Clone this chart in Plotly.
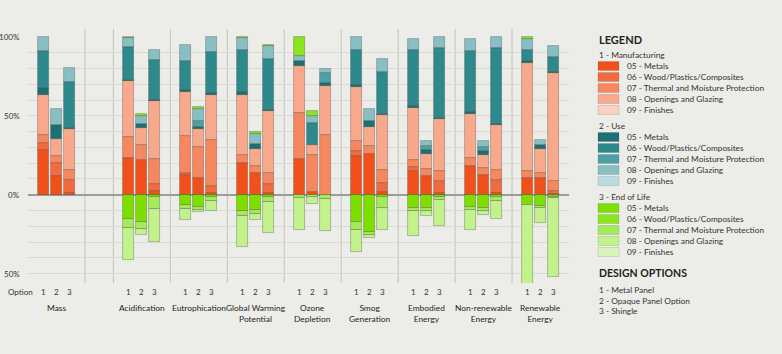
import plotly.graph_objects as go

# ---------------- DATA ----------------
categories = ["Mass", "Acidification", "Eutrophication", "Global Warming<br>Potential",
              "Ozone<br>Depletion", "Smog<br>Generation", "Embodied<br>Energy",
              "Non-renewable<br>Energy", "Renewable<br>Energy"]
options = ["1", "2", "3"]
design_options = ["1 - Metal Panel", "2 - Opaque Panel Option", "3 - Shingle"]
divisions = ["05 - Metals", "06 - Wood/Plastics/Composites", "07 - Thermal and Moisture Protection",
             "08 - Openings and Glazing", "09 - Finishes"]
phases = ["1 - Manufacturing", "2 - Use", "3 - End of Life"]
y_tick_vals = [100, 50, 0, -50]
y_tick_text = ["100%", "50%", "0%", "50%"]

# values (% of max) per category, options 1,2,3
mfg_05 = [28.5, 11.6, 1.1, 23.3, 21.8, 2.1, 12.3, 10.6, 1.1, 20.1, 13.7, 1.1, 22.6, 1.5, 0,
          24.7, 26.0, 1.7, 14.8, 12.1, 1.1, 18.4, 12.7, 1.1, 10.6, 10.6, 0.5]
mfg_06 = [4.3, 8.5, 8.4, 0, 0, 4.9, 1.4, 0, 4.2, 0, 0, 5.9, 0, 0, 0,
          2.8, 0, 5.7, 2.7, 0, 7.4, 0, 0, 8.4, 0, 0, 1.6]
mfg_07 = [5.3, 4.2, 6.4, 13.3, 9.9, 15.8, 23.7, 19.6, 29.6, 5.3, 4.7, 6.7, 29.2, 23.9, 38.1,
          6.3, 5.1, 8.5, 4.7, 4.2, 6.3, 4.9, 4.2, 6.4, 4.2, 3.1, 6.4]
mfg_08 = [24.9, 11.0, 25.7, 35.3, 10.4, 36.6, 28.1, 11.4, 28.7, 38.0, 10.6, 39.2, 30.0, 6.3, 31.0,
          34.5, 12.2, 34.8, 32.8, 9.5, 33.2, 28.1, 8.5, 28.3, 68.7, 15.5, 69.0]
mfg_09 = [0] * 27
use_05 = [4.7, 9.1, 0.8, 1.0, 2.9, 0.8, 0.8, 1.7, 0.9, 1.5, 3.3, 0.8, 2.8, 0, 1.7,
          1.5, 3.2, 0.8, 1.0, 2.3, 0.6, 0.8, 2.1, 0.6, 1.1, 2.5, 0.7]
use_06 = [23.2, 0, 29.1, 20.8, 0, 25.4, 18.6, 0, 25.8, 27.1, 0, 32.7, 0, 13.8, 0,
          22.2, 0, 26.7, 36.0, 0, 44.4, 39.3, 0, 48.2, 7.4, 0, 9.5]
use_07 = [0, 0, 0, 0, 0, 0, 0, 3.8, 0, 0, 0, 0, 0, 0, 6.4,
          0, 0, 0, 0, 2.6, 0, 0, 2.7, 0, 0, 0, 0]
use_08 = [9.1, 10.1, 8.8, 5.7, 5.1, 6.3, 9.9, 7.2, 9.7, 7.4, 6.0, 7.7, 3.6, 4.2, 2.5,
          8.0, 8.0, 7.8, 6.7, 3.5, 7.0, 7.2, 3.6, 7.0, 6.7, 3.2, 6.8]
use_09 = [0] * 27
eol_gain = [0, 0, 0, 0.6, 1.3, 0, 0, 1.3, 0, 0.6, 1.7, 0.8, 11.8, 3.6, 0,
            0, 0, 0, 0, 0, 0, 0, 0, 0, 1.3, 0, 0]
eol_05 = [0, 0, 0, -15.4, -17.5, -1.5, -6.3, -7.8, -1.5, -10.6, -9.9, -1.5, 0, 0, 0,
          -17.3, -23.9, -1.5, -8.5, -8.5, -1.5, -7.8, -8.5, -1.5, -6.3, -7.4, -1.5]
eol_06 = [0] * 27
eol_07 = [0, 0, 0, -5.7, -4.3, -7.6, -2.8, -2.1, -2.7, -3.1, -2.2, -3.4, -2.1, -1.5, -2.7,
          -5.3, -1.5, -7.0, -2.1, -2.1, -1.7, -2.1, -2.1, -2.7, 0, -1.1, -0.6]
eol_08 = [0, 0, 0, -20.1, -4.0, -20.9, -6.8, -1.3, -6.4, -19.5, -4.2, -19.4, -20.1, -4.2, -20.6,
          -13.8, -2.1, -13.7, -15.4, -2.7, -16.5, -12.3, -2.1, -11.2, -50.4, -9.5, -50.1]
eol_09 = [0] * 27

# ---------------- STYLE ----------------
BG = "#ECECE8"
MFG_C = ["#F2501A", "#F26A3E", "#F6875E", "#F8A98C", "#FAD0BF"]
USE_C = ["#1C6F72", "#2D898C", "#4FA0A4", "#87BFC3", "#BCDCDF"]
EOL_C = ["#7CDF00", "#8AE41E", "#A4EC57", "#C2F28C", "#D8F6B7"]
TXT = "Lato, 'Open Sans', sans-serif"
COND = "Lato, 'Liberation Sans Narrow', sans-serif"

W, H = 782, 354
L, R, T, B = 28, 569, 34, 283
X_RANGE = [-0.5, 9.0]
Y_RANGE = [-56, 102]
BAR_W = 0.193
STEP = 0.228


def px(x):
    return (x - L) / (R - L)


def py(y):
    return (B - y) / (B - T)


group_x = [i + (0.5 if i > 0 else 0) for i in range(len(categories))]
bar_x = [gx + (j - 1) * STEP for gx in group_x for j in range(len(options))]

series = [
    (mfg_05, MFG_C[0]), (mfg_06, MFG_C[1]), (mfg_07, MFG_C[2]), (mfg_08, MFG_C[3]), (mfg_09, MFG_C[4]),
    (use_05, USE_C[0]), (use_06, USE_C[1]), (use_07, USE_C[2]), (use_08, USE_C[3]), (use_09, USE_C[4]),
    (eol_gain, EOL_C[1]),
    (eol_05, EOL_C[0]), (eol_06, EOL_C[1]), (eol_07, EOL_C[2]), (eol_08, EOL_C[3]), (eol_09, EOL_C[4]),
]

fig = go.Figure()
for vals, col in series:
    ys = [v if v != 0 else None for v in vals]
    if all(v is None for v in ys):
        continue
    fig.add_trace(go.Bar(x=bar_x, y=ys, width=BAR_W, marker=dict(
        color=col, line=dict(color="rgba(40,40,40,0.35)", width=0.8)), showlegend=False))

shapes = []
# separators between categories
for a, b in zip(group_x[:-1], group_x[1:]):
    if b - a > 1.2:
        for sx in (a + 0.5, b - 0.5):
            shapes.append(dict(type="line", xref="x", yref="paper", x0=sx, x1=sx, y0=0, y1=1.02,
                               line=dict(color="#C2C2BE", width=1), layer="below"))
    else:
        sx = (a + b) / 2
        shapes.append(dict(type="line", xref="x", yref="paper", x0=sx, x1=sx, y0=0, y1=1.02,
                           line=dict(color="#C2C2BE", width=1), layer="below"))

annotations = []
for v, t in zip(y_tick_vals, y_tick_text):
    annotations.append(dict(x=px(22), y=v, xref="paper", yref="y", text=t, showarrow=False,
                            xanchor="right", yanchor="middle",
                            font=dict(family=TXT, size=8, color="#333")))
annotations.append(dict(x=px(6), y=py(292), xref="paper", yref="paper", text="Option",
                        showarrow=False, xanchor="left", yanchor="middle",
                        font=dict(family=TXT, size=8, color="#333")))
for k, bx in enumerate(bar_x):
    annotations.append(dict(x=bx, y=py(292), xref="x", yref="paper", text=options[k % 3],
                            showarrow=False, xanchor="center", yanchor="middle",
                            font=dict(family=TXT, size=8, color="#333")))
for gx, c in zip(group_x, categories):
    annotations.append(dict(x=gx, y=py(300.5), xref="x", yref="paper", text=c, showarrow=False,
                            xanchor="center", yanchor="top",
                            font=dict(family=COND, size=8.4, color="#1E1E1E")))

# custom legend
LX = 598
annotations.append(dict(x=px(LX - 1), y=py(40), xref="paper", yref="paper", text="<b>LEGEND</b>",
                        showarrow=False, xanchor="left", yanchor="middle",
                        font=dict(family=COND, size=11, color="#222")))
head_y = [55, 126, 197]
colsets = [MFG_C, USE_C, EOL_C]
for p, hy, cols in zip(phases, head_y, colsets):
    annotations.append(dict(x=px(LX - 1), y=py(hy), xref="paper", yref="paper", text=p,
                            showarrow=False, xanchor="left", yanchor="middle",
                            font=dict(family=TXT, size=8.3, color="#333")))
    for i, (d, c) in enumerate(zip(divisions, cols)):
        ry = hy + 11 + i * 11
        shapes.append(dict(type="rect", xref="paper", yref="paper", x0=px(LX), x1=px(LX + 21),
                           y0=py(ry + 4.5), y1=py(ry - 4.5), fillcolor=c,
                           line=dict(color="rgba(60,60,60,0.25)", width=0.6)))
        annotations.append(dict(x=px(LX + 27), y=py(ry), xref="paper", yref="paper", text=d,
                                showarrow=False, xanchor="left", yanchor="middle",
                                font=dict(family=TXT, size=8.3, color="#333")))
annotations.append(dict(x=px(LX - 1), y=py(273), xref="paper", yref="paper",
                        text="<b>DESIGN OPTIONS</b>", showarrow=False, xanchor="left",
                        yanchor="middle", font=dict(family=COND, size=10.5, color="#222")))
for i, d in enumerate(design_options):
    annotations.append(dict(x=px(LX - 1), y=py(290 + i * 10.5), xref="paper", yref="paper", text=d,
                            showarrow=False, xanchor="left", yanchor="middle",
                            font=dict(family=TXT, size=8.3, color="#333")))

fig.update_layout(
    width=W, height=H, margin=dict(l=L, r=W - R, t=T, b=H - B, pad=0),
    paper_bgcolor=BG, plot_bgcolor=BG, barmode="relative", bargap=0, showlegend=False,
    xaxis=dict(range=X_RANGE, showticklabels=False, showgrid=False, zeroline=False, fixedrange=True),
    yaxis=dict(range=Y_RANGE, tickvals=list(range(-50, 100, 10)), showticklabels=False,
               gridcolor="#DADAD5", gridwidth=1, zeroline=True, zerolinecolor="#9C9C98",
               zerolinewidth=1.5, fixedrange=True),
    shapes=shapes, annotations=annotations,
)

fig.write_html("out.html")
